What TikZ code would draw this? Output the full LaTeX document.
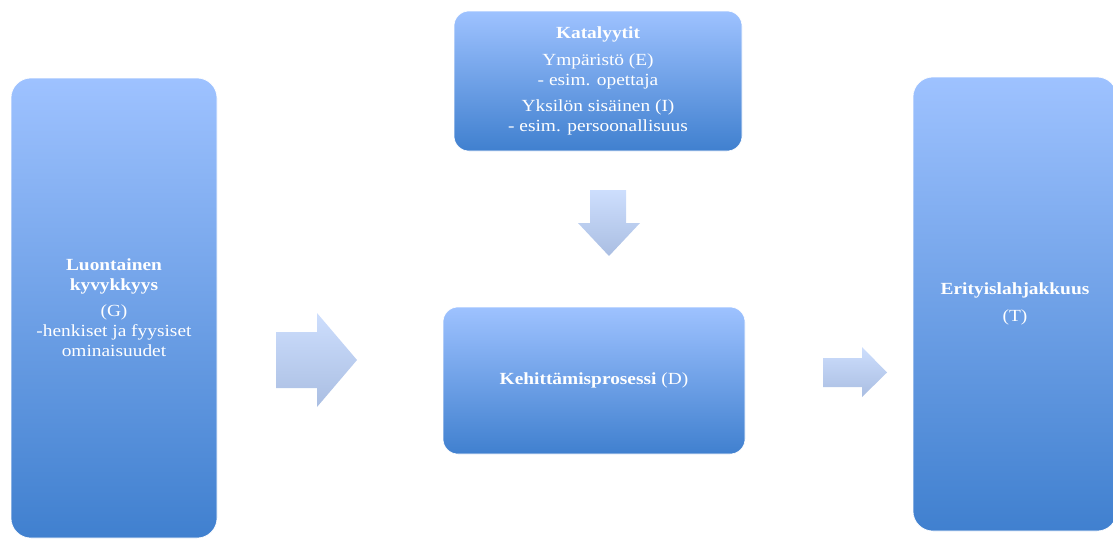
\documentclass[tikz,border=0pt]{standalone}
\usepackage{fontspec}
\setmainfont{Liberation Serif}[FakeStretch=1.14]
\usetikzlibrary{positioning}

\definecolor{boxtop}{RGB}{158,194,255}
\definecolor{boxbot}{RGB}{64,128,207}
\definecolor{arrtop}{RGB}{205,222,253}
\definecolor{arrbot}{RGB}{170,190,226}

\tikzset{
  stage/.style={rounded corners=15pt, top color=boxtop, bottom color=boxbot,
    draw=white, line width=0.6pt, text=white, align=center, inner sep=0pt,
    font=\fontsize{17}{20}\selectfont},
  blockarrow/.style={top color=arrtop, bottom color=arrbot, draw=none},
}

\begin{document}
\begin{tikzpicture}[x=1pt,y=1pt,yscale=-1]
\useasboundingbox (0,0) rectangle (1113,538);

% boxes
\node[stage, rounded corners=20pt, minimum width=206pt, minimum height=460pt] (G) at (114,308)
  {\textbf{Luontainen}\\ \textbf{kyvykkyys}\\[6pt] (G)\\ -henkiset ja fyysiset\\ ominaisuudet};
\node[stage, minimum width=288pt, minimum height=140pt] (C) at (598,81)
  {\textbf{Katalyytit}\\[7pt] Ympäristö (E)\\ - esim. opettaja\\[6pt] Yksilön sisäinen (I)\\ - esim. persoonallisuus};
\node[stage, minimum width=302pt, minimum height=147pt] (D) at (594,380.5)
  {\textbf{Kehittämisprosessi} (D)};
\node[stage, rounded corners=20pt, minimum width=204pt, minimum height=454pt] (T) at (1015,304)
  {\textbf{Erityislahjakkuus}\\[7pt] (T)};

% block arrows
\coordinate (cd tail) at (608,190);
\coordinate (gd tail) at (276,360);
\coordinate (dt tail) at (823,372.5);

\path[blockarrow] (cd tail) ++(-18,0) -- ++(36,0) -- ++(0,33) -- ++(14,0)
  -- (609,256) -- (578,223) -- ++(12,0) -- cycle;
\path[blockarrow] (gd tail) ++(0,-28) -- ++(41,0) -- ++(0,-19) -- (357,360)
  -- (317,407) -- ++(0,-19) -- ++(-41,0) -- cycle;
\path[blockarrow] (dt tail) ++(0,-14.5) -- ++(39,0) -- ++(0,-11) -- (887,372.5)
  -- (862,397) -- ++(0,-10) -- ++(-39,0) -- cycle;
\end{tikzpicture}
\end{document}
